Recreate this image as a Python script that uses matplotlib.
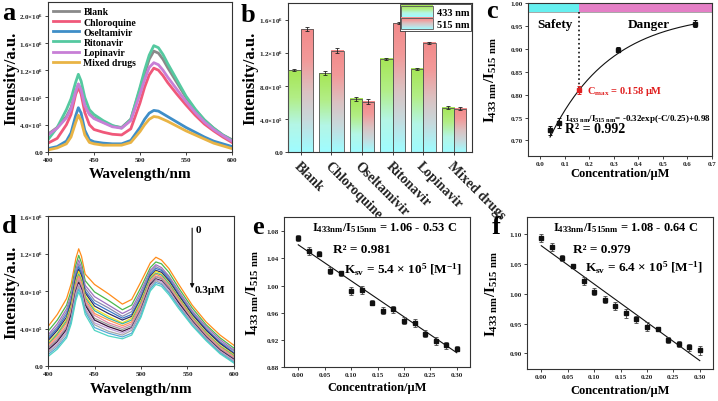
import numpy as np
import matplotlib
matplotlib.use('Agg')
import matplotlib.pyplot as plt
from matplotlib.colors import LinearSegmentedColormap
from matplotlib.legend_handler import HandlerBase
from matplotlib.image import BboxImage
from matplotlib.transforms import Bbox, TransformedBbox
from matplotlib.patches import Rectangle, Patch
from matplotlib.ticker import FuncFormatter

plt.rcParams['font.family'] = ['Liberation Serif', 'DejaVu Serif']
plt.rcParams['font.weight'] = 'bold'
plt.rcParams['axes.labelweight'] = 'bold'
plt.rcParams['mathtext.fontset'] = 'custom'
plt.rcParams['mathtext.rm'] = 'Liberation Serif:bold'
plt.rcParams['mathtext.it'] = 'Liberation Serif:bold'
plt.rcParams['mathtext.bf'] = 'Liberation Serif:bold'

# ---------------- data ----------------
# panel a: spectra (intensity in 1e6 a.u.)
wl_a = [400, 410, 420, 425, 430, 433, 436, 440, 445, 450, 460, 470, 480, 490,
        500, 505, 510, 515, 520, 525, 530, 540, 550, 560, 570, 580, 590, 600]
blank = [0.26, 0.36, 0.52, 0.65, 0.88, 0.99, 0.90, 0.68, 0.56, 0.50, 0.44, 0.38, 0.36, 0.48,
         0.92, 1.15, 1.36, 1.48, 1.45, 1.36, 1.24, 1.02, 0.80, 0.62, 0.47, 0.35, 0.25, 0.18]
chloroquine = [0.13, 0.20, 0.40, 0.55, 0.84, 0.95, 0.85, 0.58, 0.40, 0.33, 0.29, 0.26, 0.25, 0.34,
               0.72, 0.95, 1.13, 1.23, 1.20, 1.12, 1.02, 0.85, 0.69, 0.54, 0.41, 0.31, 0.22, 0.14]
oseltamivir = [0.05, 0.08, 0.16, 0.28, 0.53, 0.65, 0.57, 0.32, 0.18, 0.15, 0.13, 0.12, 0.12, 0.17,
               0.36, 0.48, 0.57, 0.61, 0.60, 0.56, 0.52, 0.44, 0.36, 0.29, 0.22, 0.16, 0.12, 0.08]
ritonavir = [0.18, 0.36, 0.62, 0.78, 1.02, 1.14, 1.04, 0.80, 0.62, 0.55, 0.46, 0.39, 0.35, 0.48,
             0.95, 1.20, 1.42, 1.56, 1.53, 1.43, 1.30, 1.06, 0.82, 0.63, 0.47, 0.35, 0.25, 0.17]
lopinavir = [0.25, 0.35, 0.50, 0.63, 0.88, 1.00, 0.91, 0.68, 0.55, 0.49, 0.43, 0.37, 0.35, 0.46,
             0.85, 1.06, 1.24, 1.31, 1.28, 1.20, 1.10, 0.92, 0.74, 0.58, 0.44, 0.33, 0.24, 0.16]
mixed = [0.03, 0.06, 0.12, 0.22, 0.43, 0.54, 0.46, 0.25, 0.14, 0.12, 0.10, 0.10, 0.10, 0.14,
         0.30, 0.40, 0.48, 0.52, 0.51, 0.48, 0.45, 0.38, 0.31, 0.25, 0.19, 0.13, 0.09, 0.05]
names_a = ['Blank', 'Chloroquine', 'Oseltamivir', 'Ritonavir', 'Lopinavir', 'Mixed drugs']
colors_a = ['#8a8a8a', '#f0587a', '#3f8ec8', '#55c9a0', '#c77fd6', '#e9b445']

# panel b: peak intensities (1e6 a.u.)
drugs = ['Blank', 'Chloroquine', 'Oseltamivir', 'Ritonavir', 'Lopinavir', 'Mixed drugs']
i433 = [0.988, 0.952, 0.645, 1.125, 1.004, 0.536]
i433_err = [0.010, 0.025, 0.025, 0.015, 0.015, 0.015]
i515 = [1.484, 1.226, 0.607, 1.556, 1.318, 0.524]
i515_err = [0.025, 0.030, 0.030, 0.015, 0.015, 0.015]

# panel c: ratio vs concentration
conc_c = [0.04, 0.075, 0.158, 0.316, 0.632]
ratio_c = [0.722, 0.738, 0.810, 0.898, 0.955]
err_c = [0.010, 0.011, 0.008, 0.006, 0.008]

# panel d: titration spectra, 0 -> 0.3 uM (1e6 a.u.)
wl_d = [400, 410, 420, 425, 430, 433, 436, 440, 450, 465, 480,
        490, 500, 510, 516, 522, 530, 540, 555, 570, 585, 600]
spectra_d = [
    [0.42, 0.55, 0.72, 0.88, 1.15, 1.25, 1.17, 0.98, 0.87, 0.77, 0.66, 0.71, 0.90, 1.10, 1.16, 1.13, 1.04, 0.88, 0.65, 0.47, 0.33, 0.22],
    [0.37, 0.49, 0.65, 0.81, 1.08, 1.18, 1.10, 0.91, 0.79, 0.70, 0.60, 0.65, 0.84, 1.05, 1.11, 1.09, 1.00, 0.84, 0.62, 0.44, 0.30, 0.19],
    [0.33, 0.45, 0.61, 0.76, 1.03, 1.13, 1.05, 0.86, 0.74, 0.65, 0.56, 0.61, 0.80, 1.02, 1.08, 1.05, 0.96, 0.81, 0.59, 0.42, 0.28, 0.17],
    [0.31, 0.42, 0.58, 0.73, 1.00, 1.09, 1.02, 0.83, 0.70, 0.62, 0.53, 0.58, 0.77, 1.00, 1.06, 1.03, 0.95, 0.79, 0.58, 0.40, 0.26, 0.16],
    [0.29, 0.40, 0.55, 0.70, 0.97, 1.06, 0.99, 0.80, 0.67, 0.59, 0.51, 0.55, 0.74, 0.98, 1.04, 1.02, 0.93, 0.77, 0.56, 0.39, 0.25, 0.14],
    [0.27, 0.38, 0.52, 0.68, 0.94, 1.03, 0.96, 0.78, 0.64, 0.56, 0.49, 0.53, 0.72, 0.96, 1.02, 1.00, 0.91, 0.76, 0.55, 0.38, 0.24, 0.13],
    [0.25, 0.35, 0.50, 0.65, 0.91, 1.01, 0.93, 0.75, 0.61, 0.53, 0.46, 0.51, 0.70, 0.94, 1.01, 0.98, 0.89, 0.74, 0.53, 0.36, 0.22, 0.12],
    [0.23, 0.34, 0.48, 0.63, 0.89, 0.98, 0.91, 0.73, 0.59, 0.51, 0.45, 0.49, 0.68, 0.93, 0.99, 0.97, 0.88, 0.73, 0.52, 0.35, 0.21, 0.11],
    [0.22, 0.32, 0.46, 0.61, 0.87, 0.96, 0.89, 0.71, 0.56, 0.49, 0.43, 0.47, 0.66, 0.91, 0.98, 0.95, 0.86, 0.72, 0.51, 0.34, 0.20, 0.10],
    [0.20, 0.30, 0.43, 0.59, 0.84, 0.94, 0.86, 0.69, 0.54, 0.46, 0.41, 0.45, 0.64, 0.90, 0.96, 0.94, 0.85, 0.70, 0.50, 0.33, 0.19, 0.09],
    [0.19, 0.28, 0.41, 0.57, 0.82, 0.91, 0.84, 0.67, 0.51, 0.44, 0.39, 0.43, 0.62, 0.88, 0.95, 0.93, 0.84, 0.69, 0.49, 0.32, 0.18, 0.08],
    [0.17, 0.26, 0.39, 0.55, 0.80, 0.89, 0.82, 0.65, 0.49, 0.42, 0.37, 0.41, 0.60, 0.87, 0.93, 0.91, 0.82, 0.68, 0.48, 0.31, 0.17, 0.07],
    [0.15, 0.24, 0.37, 0.52, 0.78, 0.87, 0.80, 0.62, 0.46, 0.40, 0.35, 0.40, 0.59, 0.85, 0.92, 0.90, 0.81, 0.66, 0.47, 0.30, 0.16, 0.06],
    [0.14, 0.22, 0.35, 0.50, 0.75, 0.85, 0.77, 0.60, 0.44, 0.37, 0.33, 0.38, 0.57, 0.84, 0.91, 0.88, 0.79, 0.65, 0.46, 0.29, 0.15, 0.05],
    [0.12, 0.20, 0.32, 0.48, 0.73, 0.82, 0.75, 0.58, 0.41, 0.35, 0.31, 0.35, 0.54, 0.82, 0.89, 0.87, 0.78, 0.64, 0.44, 0.28, 0.14, 0.04],
    [0.10, 0.18, 0.30, 0.45, 0.70, 0.79, 0.72, 0.55, 0.38, 0.32, 0.29, 0.33, 0.52, 0.80, 0.87, 0.85, 0.76, 0.62, 0.43, 0.27, 0.13, 0.03],
]
colors_d = ['#ff8c1a', '#4cb84c', '#a070c0', '#8c8cb0', '#3a78c8', '#2e2e6a', '#f2e21e', '#3fb3a3',
            '#ff9a4a', '#e688a8', '#9a9a9a', '#3a103a', '#c0a0d8', '#a8a8a8', '#58a8d8', '#50d4c4']

# panels e, f: ratio vs concentration
conc_ef = [0.00, 0.02, 0.04, 0.06, 0.08, 0.10, 0.12, 0.14, 0.16, 0.18, 0.20, 0.22, 0.24, 0.26, 0.28, 0.30]
ratio_e = [1.070, 1.051, 1.047, 1.022, 1.018, 0.992, 0.993, 0.975, 0.963, 0.965, 0.948, 0.945, 0.929, 0.918, 0.912, 0.907]
err_e = [0.005, 0.006, 0.004, 0.005, 0.004, 0.006, 0.006, 0.004, 0.005, 0.005, 0.005, 0.006, 0.005, 0.006, 0.005, 0.004]
ratio_f = [1.093, 1.078, 1.060, 1.046, 1.021, 1.003, 0.990, 0.979, 0.967, 0.957, 0.945, 0.941, 0.923, 0.915, 0.910, 0.905]
err_f = [0.006, 0.006, 0.005, 0.004, 0.006, 0.006, 0.006, 0.007, 0.008, 0.006, 0.007, 0.004, 0.005, 0.005, 0.006, 0.007]

# ---------------- figure ----------------
W, H = 718, 402
fig = plt.figure(figsize=(W / 100, H / 100), dpi=100)


def box(l, t, r, b):
    return [l / W, 1 - b / H, (r - l) / W, (b - t) / H]


def sci(v, pos):
    if v <= 0:
        return '0.0'
    e = int(np.floor(np.log10(v) + 1e-9))
    return r'$%.1f{\times}10^{%d}$' % (v / 10 ** e, e)


def style(ax, fs=5):
    for s in ax.spines.values():
        s.set_color('#333333')
        s.set_linewidth(0.8)
    ax.tick_params(direction='out', length=2, width=0.6, labelsize=fs, pad=1.5, colors='#222222')


def ylab(ax, text, px, size):
    ax.set_ylabel(text, fontsize=size, va='center')
    pos = ax.get_position()
    ax.yaxis.set_label_coords(px / W, pos.y0 + pos.height / 2, transform=fig.transFigure)


def xlab(ax, text, py, size):
    ax.set_xlabel(text, fontsize=size, va='center')
    pos = ax.get_position()
    ax.xaxis.set_label_coords(pos.x0 + pos.width / 2, 1 - py / H, transform=fig.transFigure)


ratio_lab = r'$I_{433\ nm}/I_{515\ nm}$'

# ---- a ----
ax = fig.add_axes(box(48, 3, 232, 153))
for ys, nm, c in zip([blank, chloroquine, oseltamivir, ritonavir, lopinavir, mixed], names_a, colors_a):
    ax.plot(wl_a, np.array(ys) * 1e6, color=c, lw=2.0, label=nm)
ax.set_xlim(400, 600)
ax.set_ylim(0, 2.2e6)
ax.set_xticks(range(400, 601, 50))
ax.set_yticks(np.arange(0, 2.01e6, 0.4e6))
ax.yaxis.set_major_formatter(FuncFormatter(sci))
style(ax)
ax.legend(loc='upper left', frameon=False, fontsize=7, handlelength=2.6, labelspacing=0.12,
          borderaxespad=0.15, handletextpad=0.5)
ylab(ax, 'Intensity/a.u.', 11, 12)
xlab(ax, 'Wavelength/nm', 175, 11)

# ---- b ----
ax = fig.add_axes(box(288, 4, 472, 153))
cm433 = LinearSegmentedColormap.from_list('g433', ['#9ffcff', '#b4f6e6', '#b2ee86', '#a6e656'])
cm515 = LinearSegmentedColormap.from_list('r515', ['#9ffcff', '#c6dadd', '#dcc0c0', '#f29a9a', '#f28a8a'])
grad = np.linspace(0, 1, 64).reshape(-1, 1)
x = np.arange(len(drugs))
bw = 0.4
for vals, errs, off, cm in [(i433, i433_err, -bw / 2, cm433), (i515, i515_err, bw / 2, cm515)]:
    bars = ax.bar(x + off, np.array(vals) * 1e6, bw, facecolor='none', edgecolor='#555555', lw=0.6, zorder=3)
    for b in bars:
        ax.imshow(grad, extent=[b.get_x(), b.get_x() + b.get_width(), 0, b.get_height()],
                  aspect='auto', origin='lower', cmap=cm, zorder=2, interpolation='bilinear')
    ax.errorbar(x + off, np.array(vals) * 1e6, yerr=np.array(errs) * 1e6, fmt='none', ecolor='#222222',
                elinewidth=0.6, capsize=1.5, capthick=0.6, zorder=4)
ax.set_xlim(-0.41, 5.59)
ax.set_ylim(0, 1.8e6)
ax.set_yticks(np.arange(0, 1.61e6, 0.4e6))
ax.yaxis.set_major_formatter(FuncFormatter(sci))
style(ax)
ax.set_xticks(x)
ax.set_xticklabels(drugs, rotation=-45, ha='left', va='top', rotation_mode='anchor', fontsize=10)
ax.tick_params(axis='x', pad=3)


class GradHandler(HandlerBase):
    def __init__(self, cmap):
        super().__init__()
        self.cmap = cmap

    def create_artists(self, legend, orig, xd, yd, width, height, fontsize, trans):
        bb = TransformedBbox(Bbox.from_bounds(-xd, -yd, width, height), trans)
        img = BboxImage(bb, cmap=self.cmap, interpolation='bilinear', origin='lower')
        img.set_data(grad)
        rect = Rectangle((-xd, -yd), width, height, fc='none', ec='#555555', lw=0.6, transform=trans)
        return [img, rect]


h1, h2 = Patch(label='433 nm'), Patch(label='515 nm')
leg = ax.legend([h1, h2], ['433 nm', '515 nm'], handler_map={h1: GradHandler(cm433), h2: GradHandler(cm515)},
                loc='upper right', fontsize=7.5, handlelength=3.0, handleheight=1.3, labelspacing=0.1,
                borderpad=0.15, borderaxespad=0.1, handletextpad=0.4, fancybox=False, framealpha=1)
leg.get_frame().set_edgecolor('#333333')
leg.get_frame().set_linewidth(0.6)
ylab(ax, 'Intensity/a.u.', 250, 12)

# ---- c ----
ax = fig.add_axes(box(528, 4, 712, 157))
ax.set_xlim(-0.05, 0.7)
ax.set_ylim(0.666, 1.0)
ax.fill_between([-0.05, 0.158], 0.981, 1.0, color='#66f0f0', lw=0, zorder=1)
ax.fill_between([0.158, 0.7], 0.981, 1.0, color='#e47fc6', lw=0, zorder=1)
ax.axhline(0.981, color='#666666', lw=0.4, zorder=1)
ax.plot([0.158, 0.158], [0.981, 0.815], ls=':', color='#111111', lw=1.2)
cc = np.linspace(conc_c[0], conc_c[-1], 200)
ax.plot(cc, -0.32 * np.exp(-cc / 0.25) + 0.98, color='#111111', lw=0.8)
pt_colors = ['#111111', '#111111', '#e02020', '#111111', '#111111']
for xi, yi, ei, ci in zip(conc_c, ratio_c, err_c, pt_colors):
    ax.errorbar(xi, yi, yerr=ei, fmt='s', color=ci, ms=3, elinewidth=0.7, capsize=1.5, capthick=0.7)
ax.set_xticks(np.arange(0, 0.71, 0.1))
ax.set_yticks(np.arange(0.70, 1.001, 0.05))
ax.xaxis.set_major_formatter(FuncFormatter(lambda v, p: '%.1f' % v))
ax.yaxis.set_major_formatter(FuncFormatter(lambda v, p: '%.2f' % v))
style(ax)
ax.text(-0.013, 0.955, 'Safety', fontsize=9.5, ha='left', va='center')
ax.text(0.355, 0.955, 'Danger', fontsize=9.5, ha='left', va='center')
ax.text(0.19, 0.81, r'$C_{max}$ = 0.158 $\mu$M', fontsize=7.5, color='#e02020', ha='left', va='center')
ax.text(0.10, 0.75, r'$I_{433\ nm}/I_{515\ nm}$= -0.32exp(-C/0.25)+0.98', fontsize=6.5, ha='left', va='center')
ax.text(0.10, 0.726, 'R² = 0.992', fontsize=10, ha='left', va='center')
ylab(ax, ratio_lab, 491, 11)
xlab(ax, 'Concentration/μM', 174, 9)

# ---- d ----
ax = fig.add_axes(box(48, 217, 234, 367))
for ys, c in zip(spectra_d, colors_d):
    ax.plot(wl_d, np.array(ys) * 1e6, color=c, lw=0.9)
ax.set_xlim(400, 600)
ax.set_ylim(0, 1.6e6)
ax.set_xticks(range(400, 601, 50))
ax.set_yticks(np.arange(0, 1.61e6, 0.4e6))
ax.yaxis.set_major_formatter(FuncFormatter(sci))
style(ax)
ax.annotate('', xy=(555, 0.80e6), xytext=(555, 1.50e6),
            arrowprops=dict(arrowstyle='-|>', color='#111111', lw=0.8, mutation_scale=6))
ax.text(559, 1.46e6, '0', fontsize=8, ha='left', va='center')
ax.text(558, 0.82e6, '0.3μM', fontsize=8, ha='left', va='center')
ylab(ax, 'Intensity/a.u.', 11, 12)
xlab(ax, 'Wavelength/nm', 390, 11)

# ---- e, f ----
for box_px, ratio, err, ylim, yt, fit, texts, pos_t, lx, ly in [
    ((284, 218, 470, 368), ratio_e, err_e, (0.88, 1.101), np.arange(0.88, 1.081, 0.04), (1.06, 0.53),
     ['1.06 - 0.53 C', '0.981', '5.4'], [(0.54, 0.933), (0.42, 0.787), (0.957, 0.653)], 253, 388),
    ((527, 218, 713, 370), ratio_f, err_f, (0.874, 1.128), np.arange(0.90, 1.101, 0.05), (1.08, 0.64),
     ['1.08 - 0.64 C', '0.979', '6.4'], [(0.53, 0.934), (0.40, 0.79), (0.946, 0.67)], 492, 391)]:
    ax = fig.add_axes(box(*box_px))
    cl = np.array([conc_ef[0], conc_ef[-1]])
    ax.plot(cl, fit[0] - fit[1] * cl, color='#111111', lw=0.8)
    ax.errorbar(conc_ef, ratio, yerr=err, fmt='s', color='#111111', ms=3, elinewidth=0.6,
                ecolor='#444444', capsize=1.5, capthick=0.6)
    ax.set_xlim(-0.027, 0.325)
    ax.set_ylim(*ylim)
    ax.set_xticks(np.arange(0, 0.301, 0.05))
    ax.set_yticks(yt)
    ax.xaxis.set_major_formatter(FuncFormatter(lambda v, p: '%.2f' % v))
    ax.yaxis.set_major_formatter(FuncFormatter(lambda v, p: '%.2f' % v))
    style(ax)
    ax.text(*pos_t[0], r'$I_{433nm}/I_{515nm}$ = ' + texts[0], transform=ax.transAxes,
            fontsize=9, ha='center', va='center')
    ax.text(*pos_t[1], 'R² = ' + texts[1], transform=ax.transAxes, fontsize=9.5, ha='center', va='center')
    ax.text(*pos_t[2], r'$K_{sv}$ = ' + texts[2] + r' × 10$^{5}$ [M$^{-1}$]', transform=ax.transAxes,
            fontsize=9.5, ha='right', va='center')
    ylab(ax, ratio_lab, lx, 11)
    xlab(ax, 'Concentration/μM', ly, 9)

# panel letters
for ch, px, py in [('a', 2, 2), ('b', 241, 4), ('c', 486, 0), ('d', 2, 215), ('e', 252, 216), ('f', 492, 216)]:
    fig.text(px / W, 1 - py / H, ch, fontsize=19, fontweight='bold', ha='left', va='top')

fig.savefig('out.png', dpi=100)
